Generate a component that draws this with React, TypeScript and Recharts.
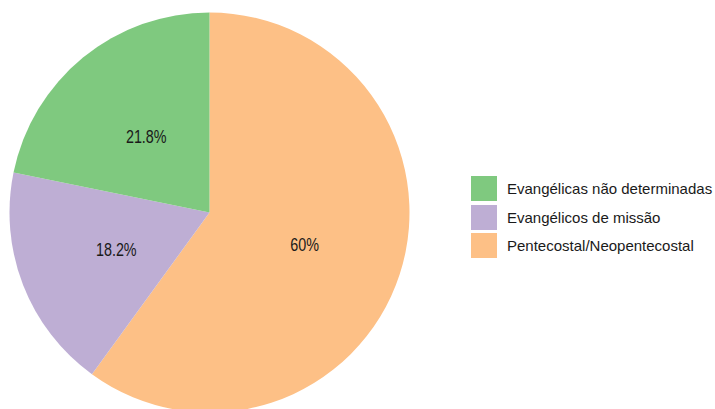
import React from "react";
import { PieChart, Pie, Cell } from "recharts";

// clockwise from 12 o'clock
const categories = [
  "Pentecostal/Neopentecostal",
  "Evangélicos de missão",
  "Evangélicas não determinadas",
];
const shares = [60, 18.2, 21.8];
const shareLabels = ["60%", "18.2%", "21.8%"];
const colors = ["#FDC086", "#BEAED4", "#7FC97F"];

// legend reads top to bottom in this order
const legendOrder = [
  "Evangélicas não determinadas",
  "Evangélicos de missão",
  "Pentecostal/Neopentecostal",
];

const data = categories.map((name, i) => ({
  name,
  value: shares[i],
  label: shareLabels[i],
  color: colors[i],
}));

const RAD = Math.PI / 180;
const FONT = "Liberation Sans, Arial, sans-serif";

const renderLabel = (props: any) => {
  const { cx, cy, midAngle, outerRadius, index } = props;
  const r = outerRadius * 0.5;
  const x = cx + r * Math.cos(-midAngle * RAD);
  const y = cy + r * Math.sin(-midAngle * RAD) + 1.5;
  // the labels in the original are a bit taller than wide
  return (
    <text
      x={0}
      y={0}
      transform={`translate(${x},${y}) scale(0.82,1)`}
      fill="#1a1a1a"
      textAnchor="middle"
      dominantBaseline="central"
      style={{ fontSize: 17.5, fontFamily: FONT }}
    >
      {data[index].label}
    </text>
  );
};

export default function App() {
  return (
    <div
      style={{
        position: "absolute",
        top: 0,
        left: 0,
        width: 715,
        height: 409,
        background: "#fff",
      }}
    >
      <PieChart width={715} height={409} margin={{ top: 0, right: 0, bottom: 0, left: 0 }}>
        <Pie
          data={data}
          dataKey="value"
          nameKey="name"
          cx={209.5}
          cy={212.5}
          outerRadius={200}
          startAngle={90}
          endAngle={-270}
          stroke="none"
          label={renderLabel}
          labelLine={false}
          isAnimationActive={false}
        >
          {data.map((d) => (
            <Cell key={d.name} fill={d.color} />
          ))}
        </Pie>
      </PieChart>
      <div
        style={{
          position: "absolute",
          left: 471,
          top: 174.5,
          fontFamily: FONT,
        }}
      >
        {legendOrder.map((name) => {
          const item = data.find((d) => d.name === name)!;
          return (
            <div
              key={name}
              style={{ display: "flex", alignItems: "center", height: 28.5 }}
            >
              <div
                style={{
                  width: 26,
                  height: 25,
                  background: item.color,
                  marginRight: 10,
                }}
              />
              <span style={{ fontSize: 15, color: "#1a1a1a", whiteSpace: "nowrap" }}>
                {name}
              </span>
            </div>
          );
        })}
      </div>
    </div>
  );
}
